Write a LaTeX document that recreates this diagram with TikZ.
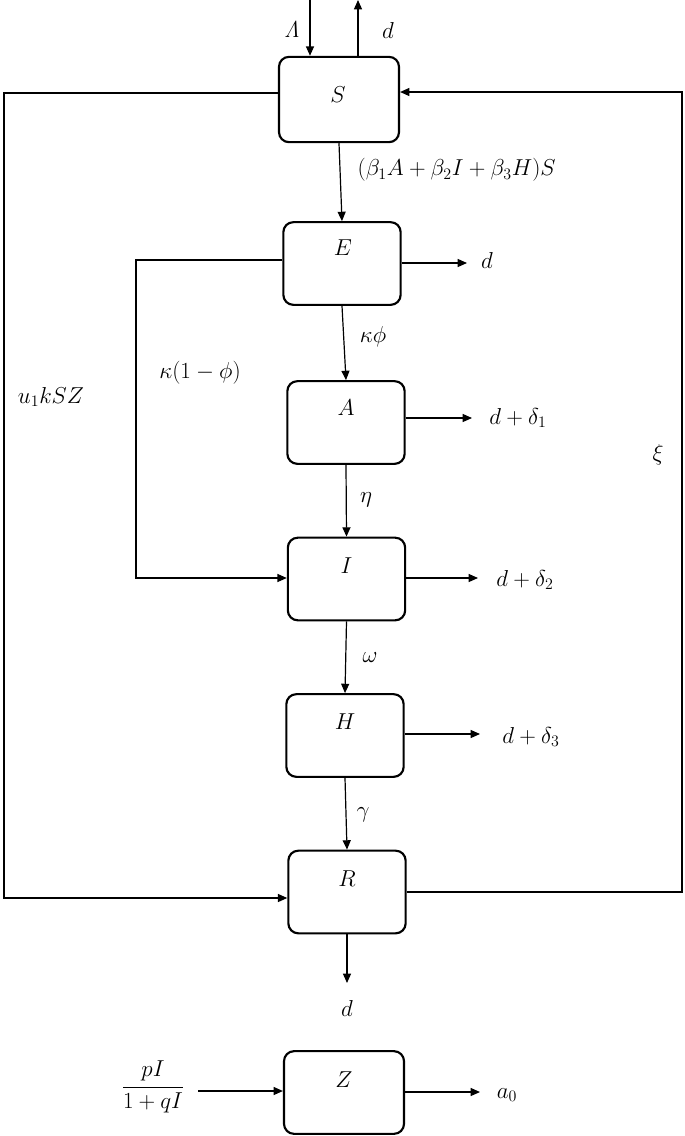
\documentclass[tikz,border=0pt]{standalone}
\usetikzlibrary{arrows.meta}
\begin{document}
\begin{tikzpicture}[x=0.75pt,y=-0.75pt,
  comp/.style={draw,line width=1.6pt,rounded corners=7.5pt,minimum width=88pt,minimum height=62pt,inner sep=0pt},
  lab/.style={inner sep=1pt,font=\fontsize{17}{20}\selectfont},
  arr/.style={line width=0.9pt,-{Triangle[length=7pt,width=6pt]}}]
\useasboundingbox (0,0) rectangle (685,1136);
% compartments
\node[comp,minimum width=90pt,minimum height=64pt] (S) at (339,99.5) {};
\node[comp] (E) at (342,263.5) {};
\node[comp] (A) at (346,422.5) {};
\node[comp] (I) at (346.5,579) {};
\node[comp] (H) at (345,735.5) {};
\node[comp] (R) at (347,892) {};
\node[comp,minimum width=90pt] (Z) at (344,1092.5) {};
% compartment names
\node[lab] (Sl) at (338,95) {$S$};
\node[lab] (El) at (343,248) {$E$};
\node[lab] (Al) at (346,408) {$A$};
\node[lab] (Il) at (346.5,566) {$I$};
\node[lab] (Hl) at (345,722) {$H$};
\node[lab] (Rl) at (347,879) {$R$};
\node[lab] (Zl) at (344,1080) {$Z$};
% free ends
\coordinate (Lin) at (310,0);
\coordinate (Sout) at (358,0);
\coordinate (Ed) at (467,263);
\coordinate (Ad) at (472,418);
\coordinate (Id) at (478,578);
\coordinate (Hd) at (480,734);
\coordinate (Rd) at (347,983);
\coordinate (Zin) at (198,1091);
\coordinate (Zd) at (480,1092);
\coordinate (Lt) at (4,93);
\coordinate (Lb) at (4,898);
\coordinate (Et) at (136,260);
\coordinate (Eb) at (136,578);
\coordinate (Rb) at (682,892);
\coordinate (Rt) at (682,92);
% connectors
\draw[arr] (Lin) -- (Lin |- S.north);
\draw[arr] (S.north -| Sout) -- (Sout);
\draw[arr] (S.south) -- (E.north);
\draw[arr] (E.east |- Ed) -- (Ed);
\draw[arr] (E.south) -- (A.north);
\draw[arr] (A.east |- Ad) -- (Ad);
\draw[arr] (A.south) -- (I.north);
\draw[arr] (I.east |- Id) -- (Id);
\draw[arr] (I.south) -- (H.north);
\draw[arr] (H.east |- Hd) -- (Hd);
\draw[arr] (H.south) -- (R.north);
\draw[arr] (R.south) -- (Rd);
\draw[arr] (Zin) -- (Z.west |- Zin);
\draw[arr] (Z.east |- Zd) -- (Zd);
\draw[arr] (S.west |- Lt) -- (Lt) -- (Lb) -- (R.west |- Lb);
\draw[arr] (E.west |- Et) -- (Et) -- (Eb) -- (I.west |- Eb);
\draw[arr] (R.east |- Rb) -- (Rb) -- (Rt) -- (S.east |- Rt);
% rate labels
\node[lab] (lLam) at (292,30) {$\mathit{\Lambda}$};
\node[lab] (lSd) at (388,30) {$d$};
\node[lab,anchor=west] (lbeta) at (356,170) {$(\beta_1A+\beta_2I+\beta_3H)S$};
\node[lab] (lEd) at (487,260) {$d$};
\node[lab] (lkphi) at (373,337) {$\kappa\phi$};
\node[lab] (lAd) at (518,418) {$d+\delta_1$};
\node[lab] (leta) at (366,500) {$\eta$};
\node[lab] (lId) at (525,580) {$d+\delta_2$};
\node[lab] (lomega) at (370,658) {$\omega$};
\node[lab] (lHd) at (531,737) {$d+\delta_3$};
\node[lab] (lgamma) at (363,815) {$\gamma$};
\node[lab] (lRd) at (347,1008) {$d$};
\node[lab] (lfrac) at (153,1087) {$\displaystyle\frac{pI}{1+qI}$};
\node[lab] (la0) at (507,1095) {$a_0$};
\node[lab] (lu) at (51,397) {$u_1kSZ$};
\node[lab] (lk1) at (200,373) {$\kappa(1-\phi)$};
\node[lab] (lxi) at (658,455) {$\xi$};
\end{tikzpicture}
\end{document}
